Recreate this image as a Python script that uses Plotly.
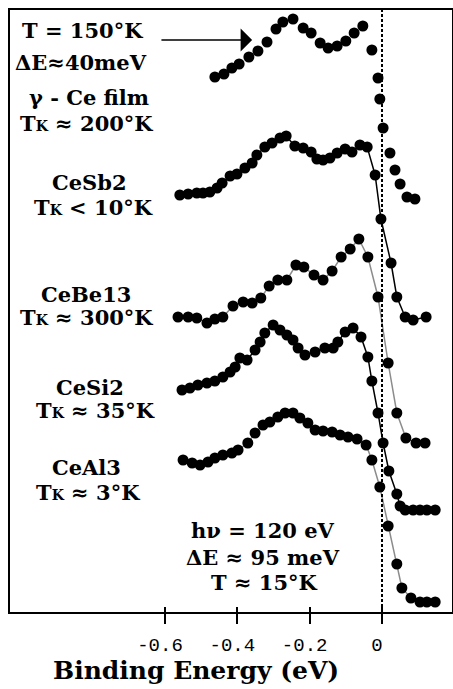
import plotly.graph_objects as go

# ---------------- data (binding energy in eV, intensity in arb. units incl. offsets) ----------
ce_film_E = [-0.462, -0.437, -0.415, -0.395, -0.368, -0.343, -0.318, -0.293, -0.274, -0.246,
             -0.218, -0.196, -0.171, -0.149, -0.124, -0.100, -0.077, -0.053, -0.028, -0.011,
             -0.006, 0.003, 0.022, 0.036, 0.050, 0.069, 0.091]
ce_film_I = [535, 538, 544, 548, 555, 561, 570, 583, 590, 593,
             584, 579, 569, 564, 566, 571, 579, 586, 562, 534,
             513, 484, 459, 442, 428, 415, 413]

cesb2_E = [-0.559, -0.536, -0.512, -0.495, -0.476, -0.456, -0.442, -0.420, -0.401, -0.379,
           -0.359, -0.346, -0.324, -0.304, -0.282, -0.265, -0.241, -0.218, -0.196, -0.180,
           -0.163, -0.144, -0.124, -0.102, -0.083, -0.061, -0.041, -0.019, -0.003, 0.025,
           0.041, 0.064, 0.086, 0.122]
cesb2_I = [417, 418, 419, 419, 420, 424, 429, 436, 438, 444,
           449, 457, 465, 469, 474, 476, 466, 464, 460, 453,
           452, 454, 459, 463, 460, 467, 465, 437, 393, 349,
           315, 295, 292, 295]

cebe13_E = [-0.564, -0.536, -0.512, -0.484, -0.462, -0.440, -0.412, -0.384, -0.359, -0.335,
            -0.312, -0.288, -0.263, -0.238, -0.216, -0.188, -0.163, -0.138, -0.113, -0.088,
            -0.064, -0.039, -0.011, 0.017, 0.041, 0.066, 0.094, 0.119]
cebe13_I = [295, 295, 294, 289, 293, 295, 306, 310, 309, 314,
            326, 332, 332, 347, 345, 337, 332, 341, 355, 363,
            373, 355, 315, 249, 199, 174, 169, 169]

cesi2_E = [-0.553, -0.531, -0.509, -0.484, -0.462, -0.440, -0.420, -0.406, -0.393, -0.373,
           -0.351, -0.337, -0.324, -0.301, -0.282, -0.263, -0.246, -0.232, -0.213, -0.185,
           -0.158, -0.135, -0.122, -0.102, -0.080, -0.058, -0.039, -0.028, -0.011, 0.003,
           0.019, 0.041, 0.050, 0.064, 0.086, 0.105, 0.124, 0.147]
cesi2_I = [222, 224, 227, 229, 231, 235, 240, 245, 254, 252,
           262, 270, 279, 287, 282, 277, 272, 264, 257, 260,
           264, 264, 270, 280, 284, 275, 255, 231, 199, 169,
           141, 118, 106, 102, 102, 102, 102, 102]

ceal3_E = [-0.550, -0.525, -0.503, -0.481, -0.462, -0.440, -0.415, -0.398, -0.371, -0.351,
           -0.329, -0.310, -0.288, -0.268, -0.246, -0.227, -0.205, -0.185, -0.163, -0.138,
           -0.116, -0.094, -0.069, -0.044, -0.028, -0.006, 0.017, 0.041, 0.055, 0.080,
           0.105, 0.124, 0.147]
ceal3_I = [152, 149, 147, 150, 154, 157, 159, 162, 169, 179,
           187, 190, 195, 199, 199, 194, 189, 182, 181, 180,
           177, 175, 173, 167, 152, 125, 86, 48, 24, 14,
           10, 10, 10]

tick_vals = [-0.6, -0.4, -0.2, 0]
tick_text = ["-0.6", "-0.4", "-0.2", "0"]

SERIF = "DejaVu Serif"
TK = "T<span style='font-size:14px'>K</span>"

fig = go.Figure()

def add_spec(E, I, line_color):
    fig.add_trace(go.Scatter(
        x=E, y=I,
        mode="markers" if line_color is None else "lines+markers",
        line=dict(color=line_color or "black", width=1.5),
        marker=dict(color="black", size=11, line=dict(width=0)),
        showlegend=False, hoverinfo="skip"))

add_spec(ce_film_E, ce_film_I, None)
add_spec(cesb2_E, cesb2_I, "black")
add_spec(cebe13_E, cebe13_I, "#8c8c8c")
add_spec(cesi2_E, cesi2_I, "black")
add_spec(ceal3_E, ceal3_I, "#8c8c8c")

# invisible trace to anchor the inner-tick overlay axis
fig.add_trace(go.Scatter(x=[0], y=[0], xaxis="x2", mode="markers",
                         marker=dict(opacity=0), showlegend=False, hoverinfo="skip"))

# Fermi level
fig.add_shape(type="line", xref="x", yref="paper", x0=0, x1=0, y0=0, y1=1,
              line=dict(color="black", width=2, dash="3px,2px"))

labels = [
    ("T = 150°K", -0.827, 582),
    ("ΔE≈40meV", -0.832, 550),
    ("γ - Ce film", -0.810, 515),
    (TK + " ≈ 200°K", -0.818, 489),
    ("CeSb2", -0.810, 430),
    (TK + " < 10°K", -0.799, 405),
    ("CeBe13", -0.818, 318),
    (TK + " ≈ 300°K", -0.816, 295),
    ("CeSi2", -0.807, 225),
    (TK + " ≈ 35°K", -0.791, 202),
    ("CeAl3", -0.816, 145),
    (TK + " ≈ 3°K", -0.813, 120),
    ("hν = 120 eV", -0.329, 82),
    ("ΔE ≈ 95 meV", -0.329, 55),
    ("T ≈ 15°K", -0.326, 30),
]
for txt, x, y in labels:
    fig.add_annotation(x=x, y=y, xref="x", yref="y", text="<b>" + txt + "</b>",
                       showarrow=False, font=dict(family=SERIF, size=21, color="black"),
                       xanchor="center", yanchor="middle")

# arrow pointing to the γ-Ce spectrum
fig.add_annotation(x=-0.359, y=572, ax=-0.614, ay=572, xref="x", yref="y",
                   axref="x", ayref="y", text="", showarrow=True,
                   arrowhead=1, arrowsize=2.4, arrowwidth=1.6, arrowcolor="black")

# axis title
fig.add_annotation(x=-0.514, y=-0.097, xref="x", yref="paper",
                   text="<b>Binding Energy (eV)</b>", showarrow=False,
                   font=dict(family=SERIF, size=25, color="black"),
                   xanchor="center", yanchor="middle")

xr = [-1.0285, 0.1935]
fig.update_layout(
    width=453, height=689,
    margin=dict(l=10, r=1, t=10, b=77, autoexpand=False),
    paper_bgcolor="white", plot_bgcolor="white",
    xaxis=dict(range=xr, showgrid=False, zeroline=False, automargin=False,
               showline=True, mirror=True, linecolor="black", linewidth=2,
               ticks="outside", ticklen=10, tickwidth=2, tickcolor="black",
               tickvals=tick_vals, ticktext=tick_text,
               ticklabelstandoff=4, ticklabelshift=-5,
               tickfont=dict(family="Liberation Mono", size=19, color="black")),
    xaxis2=dict(range=xr, overlaying="x", anchor="y", side="bottom", automargin=False,
                showgrid=False, zeroline=False, showline=False,
                ticks="inside", ticklen=5, tickwidth=2, tickcolor="black",
                tickvals=tick_vals, showticklabels=False),
    yaxis=dict(range=[0, 602], showgrid=False, zeroline=False, automargin=False,
               showline=True, mirror=True, linecolor="black", linewidth=2,
               showticklabels=False, ticks=""),
)

fig.write_html("out.html", config={"displayModeBar": False},
               post_script="document.body.style.margin='0';document.body.style.padding='0';document.body.style.overflow='hidden';")
